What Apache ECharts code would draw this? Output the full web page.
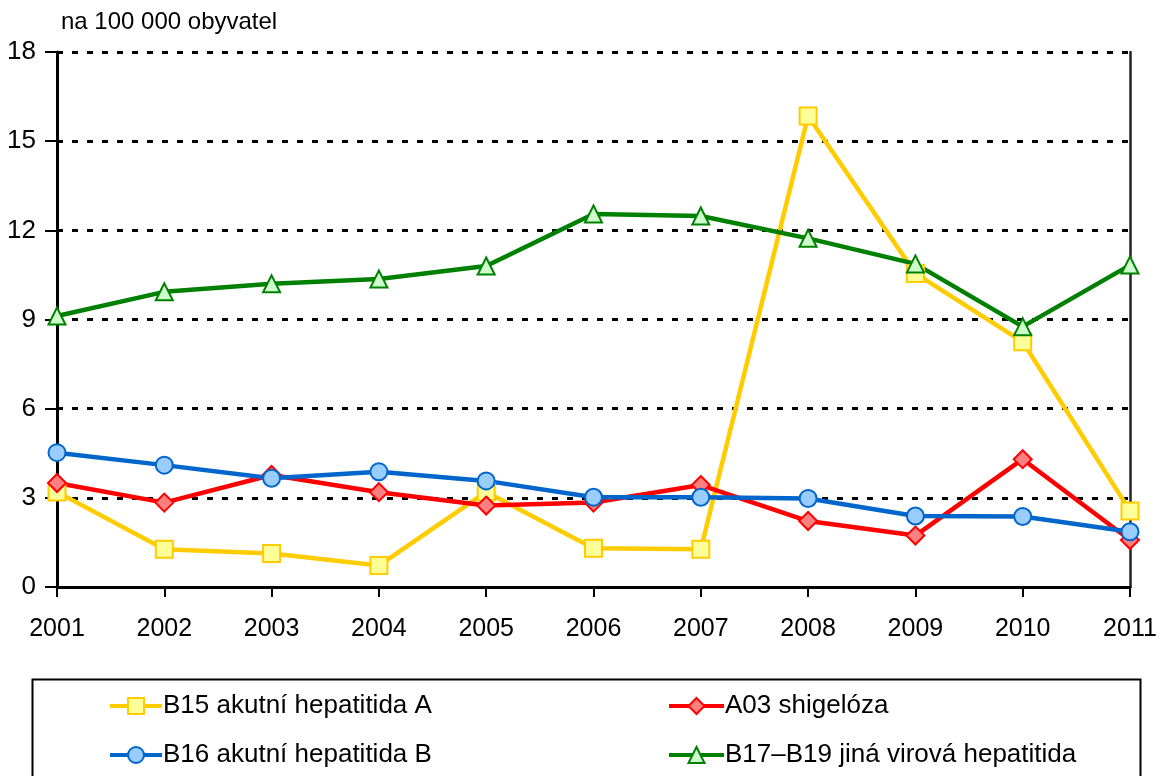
<!DOCTYPE html>
<html><head><meta charset="utf-8">
<script src="https://cdn.jsdelivr.net/npm/echarts@6/dist/echarts.min.js"></script>
<style>html,body{margin:0;padding:0;background:#fff}#c{width:1162px;height:776px}</style>
</head><body><div id="c"></div>
<script>
const years = ['2001','2002','2003','2004','2005','2006','2007','2008','2009','2010','2011'];
const hepA = [3.2, 1.27, 1.13, 0.72, 3.2, 1.3, 1.27, 15.85, 10.55, 8.25, 2.56];
const shig = [3.5, 2.84, 3.77, 3.19, 2.74, 2.84, 3.43, 2.22, 1.73, 4.3, 1.58];
const hepB = [4.52, 4.1, 3.66, 3.88, 3.57, 3.02, 3.02, 2.98, 2.39, 2.37, 1.86];
const other = [9.12, 9.93, 10.2, 10.36, 10.8, 12.55, 12.48, 11.73, 10.87, 8.76, 10.83];
const names = ['B15 akutní hepatitida A', 'A03 shigelóza', 'B16 akutní hepatitida B', 'B17–B19 jiná virová hepatitida'];
const yTitle = 'na 100 000 obyvatel';

const font = '"Liberation Sans", Arial, sans-serif';
function mk(name, data, line, fill, symbol, size) {
  return {
    name, type: 'line', data, symbol, symbolSize: size,
    lineStyle: {color: line, width: 4.5},
    itemStyle: {color: fill, borderColor: line, borderWidth: 2},
    emphasis: {disabled: true}, animation: false
  };
}
const legText = {fontFamily: font, fontSize: 26, color: '#000', padding: [0,0,0,-4]};
const chart = echarts.init(document.getElementById('c'));
chart.setOption({
  animation: false,
  grid: {left: 57, right: 32, top: 52, bottom: 189},
  graphic: [{type: 'rect', left: 30, top: 677, shape: {width: 1108, height: 120},
    style: {fill: 'none', stroke: '#000', lineWidth: 2}}],
  legend: [
    {orient: 'vertical', left: 103, top: 688, itemWidth: 52, itemHeight: 20, itemGap: 23,
     lineStyle: {width: 4}, data: [names[0], names[2]], textStyle: legText},
    {orient: 'vertical', left: 662, top: 688, itemWidth: 55, itemHeight: 20, itemGap: 23,
     lineStyle: {width: 4}, data: [names[1], names[3]], textStyle: legText}
  ],
  xAxis: {
    type: 'category', data: years, boundaryGap: false,
    axisLine: {lineStyle: {color: '#000', width: 3}},
    axisTick: {show: true, length: 10, lineStyle: {color: '#000', width: 2}},
    axisLabel: {color: '#000', fontFamily: font, fontSize: 25, margin: 30},
    splitLine: {show: false}
  },
  yAxis: [{
    type: 'value', min: 0, max: 18, interval: 3,
    name: yTitle, nameLocation: 'end', nameGap: 18,
    nameTextStyle: {color: '#000', fontFamily: font, fontSize: 24, align: 'left', padding: [0,0,0,4]},
    axisLine: {show: true, lineStyle: {color: '#000', width: 3}},
    axisTick: {show: true, length: 12, lineStyle: {color: '#000', width: 2}},
    axisLabel: {color: '#000', fontFamily: font, fontSize: 26, margin: 21},
    splitLine: {show: true, lineStyle: {color: '#000', width: 3, type: [6, 9]}}
  }, {
    type: 'value', min: 0, max: 18, interval: 3, position: 'right',
    axisLine: {show: true, lineStyle: {color: '#222', width: 2.5}},
    axisTick: {show: false}, axisLabel: {show: false}, splitLine: {show: false}
  }],
  series: [
    mk(names[0], hepA, '#FFCC00', '#FFFF99', 'rect', 17),
    mk(names[1], shig, '#FF0000', '#FF8080', 'diamond', 18),
    mk(names[2], hepB, '#0066CC', '#99CCFF', 'circle', 17),
    mk(names[3], other, '#008000', '#CCFFCC', 'triangle', 17)
  ]
});
</script></body></html>
